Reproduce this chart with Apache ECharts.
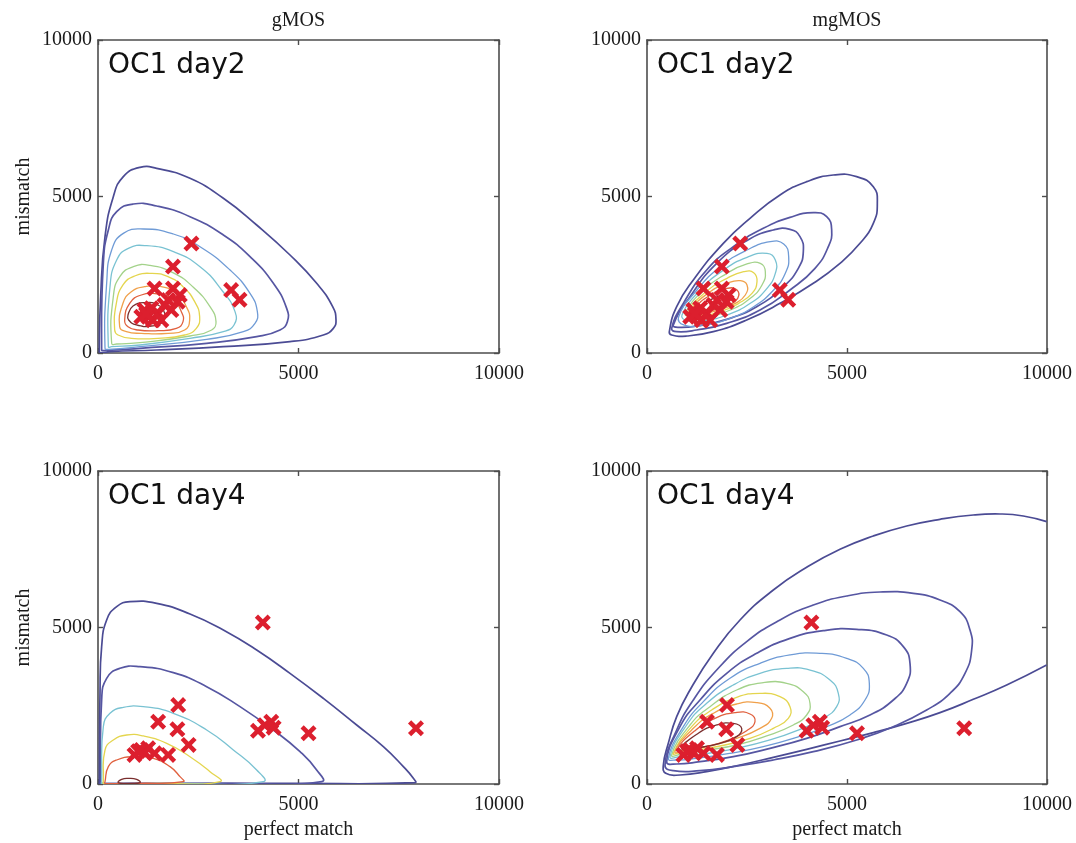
<!DOCTYPE html>
<html>
<head>
<meta charset="utf-8">
<title>gMOS / mgMOS contours</title>
<script src="https://cdn.jsdelivr.net/npm/echarts@6/dist/echarts.min.js"></script>
<style>
  html, body { margin: 0; padding: 0; background: #fff; }
  #main { width: 1076px; height: 843px; }
</style>
</head>
<body>
<div id="main"></div>
<script>
// axis range (perfect match / mismatch intensities)
var axisMin = 0;
var axisMax = 10000;
var axisStep = 5000;

var columnTitles = ['gMOS', 'mgMOS'];
var panelLabels = ['OC1 day2', 'OC1 day2', 'OC1 day4', 'OC1 day4'];
var yName = 'mismatch';
var xName = 'perfect match';

var day2Probes = [
  [2330, 3500], [1870, 2760], [1410, 2060], [1870, 2060], [2040, 1850],
  [1990, 1640], [3320, 2010], [3530, 1700], [1160, 1370], [1330, 1430],
  [1250, 1160], [1500, 1270], [1660, 1530], [1750, 1690], [1080, 1160],
  [1370, 1050], [1580, 1050], [1830, 1370], [1200, 1250]
];
var day4Probes = [
  [4110, 5160], [2000, 2520], [1500, 1990], [1980, 1750], [2260, 1250],
  [3990, 1700], [4160, 1880], [4320, 1990], [4380, 1800], [5250, 1620],
  [7930, 1780], [910, 930], [1080, 1090], [1250, 1140], [1410, 980],
  [1750, 930], [1170, 1000], [1000, 1050]
];

// contour lines, outermost first
var gmosDay2Contours = [
  [[33,96],[66,1800],[175,3717],[382,4995],[632,5634],[1047,5932],[1463,5900],[2294,5580],[3126,4942],[3957,4090],[4788,3131],[5453,2226],[5852,1480],[5935,1054],[5869,788],[5620,575],[4788,362],[3126,202],[1463,96],[299,43],[50,10]],
  [[91,96],[133,2865],[258,3930],[466,4516],[881,4760],[1463,4697],[2294,4356],[3126,3770],[3791,3078],[4373,2226],[4705,1427],[4722,1001],[4539,735],[3957,522],[2710,309],[1047,149],[133,75]],
  [[175,149],[216,2226],[341,3291],[632,3823],[1131,3962],[1879,3802],[2544,3397],[3292,2652],[3791,1906],[3974,1321],[3915,948],[3625,682],[2710,437],[1047,202],[258,117]],
  [[258,202],[299,2119],[466,2971],[757,3344],[1214,3429],[1879,3238],[2544,2758],[3084,2013],[3417,1321],[3392,895],[3126,682],[2294,469],[1047,256],[341,202]],
  [[341,309],[382,1800],[549,2450],[881,2760],[1297,2800],[1879,2560],[2378,2100],[2793,1480],[2943,1001],[2835,735],[2294,543],[1047,330],[466,288]],
  [[416,735],[457,1587],[623,2173],[914,2460],[1330,2545],[1746,2439],[2120,2119],[2411,1640],[2535,1161],[2452,788],[2161,575],[1496,469],[831,469],[499,575]],
  [[540,841],[623,1587],[831,1960],[1164,2119],[1579,2119],[1954,1906],[2203,1480],[2286,1054],[2161,735],[1746,629],[1081,629],[707,682]],
  [[665,1054],[790,1587],[1081,1853],[1496,1885],[1870,1704],[2078,1321],[2120,1001],[1954,788],[1496,714],[998,735],[748,841]],
  [[748,1214],[873,1502],[1164,1608],[1496,1534],[1663,1267],[1621,1001],[1330,863],[956,895],[765,1054]]
];
var mgmosDay2Contours = [
  [[558,682],[742,1480],[1158,2332],[1908,3504],[2575,4303],[3325,5048],[3992,5474],[4658,5687],[5242,5634],[5658,5314],[5758,4782],[5658,4143],[5325,3504],[4825,2865],[4158,2226],[3325,1587],[2492,1054],[1658,682],[992,543],[617,575]],
  [[617,788],[908,1587],[1492,2652],[2158,3397],[2908,3983],[3575,4335],[4158,4484],[4492,4356],[4617,3930],[4533,3397],[4200,2705],[3575,2013],[2825,1374],[1992,948],[1242,735],[742,682]],
  [[658,895],[1075,1800],[1742,2865],[2492,3589],[3158,3930],[3575,3951],[3825,3717],[3908,3238],[3783,2705],[3408,2119],[2742,1480],[1992,1076],[1242,863],[783,820]],
  [[792,1161],[1250,2013],[1833,2758],[2500,3291],[3083,3557],[3417,3483],[3542,3078],[3458,2545],[3167,2013],[2667,1480],[2083,1108],[1417,895],[917,895]],
  [[875,1214],[1333,2013],[1917,2652],[2500,3056],[3000,3185],[3208,2971],[3208,2545],[3000,2066],[2583,1587],[2000,1214],[1417,1033],[1000,1033]],
  [[958,1267],[1417,2013],[2000,2545],[2500,2844],[2833,2865],[2958,2599],[2875,2173],[2583,1747],[2083,1374],[1500,1161],[1083,1161]],
  [[1042,1321],[1500,1985],[2000,2386],[2417,2599],[2667,2567],[2750,2279],[2625,1906],[2292,1587],[1833,1321],[1333,1214]],
  [[1125,1374],[1542,1927],[2000,2226],[2333,2311],[2500,2173],[2458,1853],[2208,1587],[1792,1374],[1375,1267]],
  [[1208,1427],[1583,1853],[2000,2066],[2250,2013],[2267,1747],[2042,1534],[1667,1374],[1333,1321]],
  [[1333,1480],[1667,1747],[1958,1820],[2042,1672],[1875,1502],[1583,1395],[1375,1395]]
];
var gmosDay4Contours = [
  [[33,43],[50,2897],[91,4388],[216,5240],[466,5666],[798,5826],[1463,5772],[2294,5432],[3126,4920],[3957,4281],[4788,3536],[5620,2737],[6451,1885],[7116,1193],[7615,554],[7864,181],[7906,43],[4788,21],[1463,21],[33,21]],
  [[66,75],[91,2684],[216,3376],[549,3696],[1047,3749],[1879,3557],[2710,3110],[3541,2471],[4373,1725],[5038,1033],[5453,447],[5578,75],[3126,21],[66,21]],
  [[91,75],[133,1832],[299,2258],[632,2449],[1131,2471],[1879,2258],[2710,1725],[3375,1086],[3957,447],[4123,75],[2000,21],[91,21]],
  [[133,75],[175,1086],[382,1406],[715,1566],[1131,1534],[1713,1300],[2294,873],[2793,394],[3043,75],[1500,21],[133,21]],
  [[175,75],[258,554],[466,767],[881,873],[1380,820],[1796,554],[2045,234],[2128,75],[1000,21],[175,21]],
  [[507,43],[590,149],[757,181],[964,149],[1047,43],[757,21]]
];
// outermost mgMOS day4 contour leaves the plot on the right, so it stays open
var mgmosDay4Outer = [[9992,8382],[9408,8563],[8825,8627],[8158,8595],[7325,8456],[6492,8243],[5658,7924],[4825,7498],[3992,6923],[3158,6198],[2325,5240],[1658,4175],[1075,3003],[742,2151],[533,1299],[408,600],[470,340],[825,288],[1492,394],[2325,607],[3158,852],[3992,1108],[4825,1374],[5658,1640],[6492,1938],[7325,2279],[8158,2705],[8992,3163],[9992,3802]];
var mgmosDay4Contours = [
  [[450,607],[742,1725],[1158,2684],[1742,3642],[2492,4548],[3325,5240],[4158,5719],[4992,6007],[5825,6134],[6658,6092],[7325,5879],[7825,5506],[8075,4920],[8117,4281],[7950,3536],[7575,2897],[6992,2364],[6158,1832],[5242,1406],[4158,1033],[3158,767],[2158,554],[1325,426],[658,426]],
  [[492,714],[825,1832],[1325,2684],[1992,3536],[2742,4175],[3575,4654],[4408,4899],[5242,4942],[5992,4761],[6408,4388],[6575,3855],[6492,3216],[6158,2684],[5575,2205],[4825,1832],[3992,1459],[3075,1140],[2158,873],[1325,714],[742,639]],
  [[533,820],[908,1832],[1408,2631],[2075,3376],[2825,3855],[3575,4122],[4325,4175],[4992,4015],[5408,3696],[5558,3216],[5450,2684],[5075,2205],[4492,1832],[3742,1491],[2908,1193],[2075,980],[1242,820],[742,767]],
  [[575,873],[992,1885],[1492,2577],[2158,3163],[2825,3536],[3492,3696],[4075,3642],[4575,3323],[4783,2897],[4742,2471],[4408,2098],[3825,1747],[3075,1406],[2242,1140],[1408,959],[825,873]],
  [[617,927],[1075,1885],[1575,2471],[2242,3003],[2908,3238],[3492,3216],[3908,2950],[4075,2577],[3992,2205],[3658,1885],[2992,1534],[2242,1246],[1408,1065],[867,959]],
  [[658,980],[1117,1832],[1617,2364],[2242,2769],[2825,2897],[3325,2790],[3575,2471],[3533,2098],[3158,1779],[2575,1459],[1825,1214],[1158,1065],[825,1001]],
  [[700,1033],[1158,1779],[1658,2258],[2242,2556],[2742,2599],[3075,2418],[3117,2098],[2825,1779],[2242,1459],[1575,1214],[992,1086]],
  [[742,1086],[1200,1704],[1700,2098],[2200,2279],[2575,2237],[2700,1991],[2492,1704],[2033,1406],[1450,1193],[992,1108]],
  [[867,1140],[1283,1619],[1742,1885],[2158,1938],[2367,1779],[2242,1514],[1825,1299],[1325,1171]]
];

// ---- styling ----
var levelColors = ['#4b4b94', '#5656a2', '#6f9bd6', '#79c2d2', '#a3d28a', '#e4d54e', '#f0a04a', '#e0603e', '#c83a32', '#7a2e2e'];
var gmosDay2Levels = [0, 1, 2, 3, 4, 5, 6, 7, 9];
var mgmosDay2Levels = [0, 1, 1, 2, 3, 4, 5, 6, 7, 9];
var gmosDay4Levels = [0, 1, 3, 5, 7, 9];
var mgmosDay4Levels = [1, 1, 2, 3, 4, 5, 6, 7, 9];
var crossColor = '#dc1f2e';
var crossPath = 'path://M2,0L5,3L8,0L10,2L7,5L10,8L8,10L5,7L2,10L0,8L3,5L0,2Z';
var serif = '"Liberation Serif", "Times New Roman", serif';
var frameColor = '#4d4d4d';

var chart = echarts.init(document.getElementById('main'), null, { renderer: 'canvas' });

var grids = [
  { left: 98, top: 40, width: 401, height: 313 },
  { left: 647, top: 40, width: 400, height: 313 },
  { left: 98, top: 471, width: 401, height: 313 },
  { left: 647, top: 471, width: 400, height: 313 }
];

var xAxes = [], yAxes = [], series = [];

function axisBase(p, pos, labels) {
    return {
        gridIndex: p,
        type: 'value',
        position: pos,
        min: axisMin,
        max: axisMax,
        interval: axisStep,
        axisLine: { show: true, onZero: false, lineStyle: { color: frameColor, width: 1.6 } },
        axisTick: { show: true, inside: true, length: 5, lineStyle: { color: frameColor, width: 1.4 } },
        axisLabel: {
            show: labels, fontFamily: serif, fontSize: 20, color: '#1a1a1a',
            showMinLabel: true, showMaxLabel: true,
            formatter: function (v) { return String(v); }
        },
        splitLine: { show: false }
    };
}

grids.forEach(function (g, p) {
    var bx = axisBase(p, 'bottom', true);
    bx.axisLabel.margin = 11;
    if (p >= 2) {
        bx.name = xName;
        bx.nameLocation = 'middle';
        bx.nameGap = 36;
        bx.nameTextStyle = { fontFamily: serif, fontSize: 20, color: '#1a1a1a' };
    }
    xAxes.push(bx);
    xAxes.push(axisBase(p, 'top', false));

    var ly = axisBase(p, 'left', true);
    ly.axisLabel.margin = 6;
    if (p % 2 === 0) {
        ly.name = yName;
        ly.nameLocation = 'middle';
        ly.nameGap = 64;
        ly.nameTextStyle = { fontFamily: serif, fontSize: 20, color: '#1a1a1a' };
    }
    yAxes.push(ly);
    yAxes.push(axisBase(p, 'right', false));
});

// each contour is one custom series; the whole curve is drawn once (on the
// first item) as a smoothed polygon / polyline through the axis coordinates
function addContours(p, curves, levels, closed) {
    curves.forEach(function (pts, i) {
        var lv = levels[i];
        series.push({
            type: 'custom',
            coordinateSystem: 'cartesian2d',
            xAxisIndex: p * 2,
            yAxisIndex: p * 2,
            data: pts,
            clip: true,
            silent: true,
            z: 2,
            renderItem: function (params, api) {
                if (params.dataIndex !== 0) return null;
                var coords = pts.map(function (d) { return api.coord(d); });
                return {
                    type: closed ? 'polygon' : 'polyline',
                    shape: { points: coords, smooth: 0.5 },
                    style: { fill: null, stroke: levelColors[lv], lineWidth: lv < 2 ? 1.7 : 1.3 }
                };
            }
        });
    });
}

function addProbes(p, pts) {
    series.push({
        type: 'scatter',
        xAxisIndex: p * 2,
        yAxisIndex: p * 2,
        data: pts,
        symbol: crossPath,
        symbolSize: 16,
        silent: true,
        z: 5,
        itemStyle: { color: crossColor, opacity: 1 }
    });
}

addContours(0, gmosDay2Contours, gmosDay2Levels, true);
addContours(1, mgmosDay2Contours, mgmosDay2Levels, true);
addContours(2, gmosDay4Contours, gmosDay4Levels, true);
addContours(3, [mgmosDay4Outer], [0], false);
addContours(3, mgmosDay4Contours, mgmosDay4Levels, true);
addProbes(0, day2Probes);
addProbes(1, day2Probes);
addProbes(2, day4Probes);
addProbes(3, day4Probes);

var texts = [];
columnTitles.forEach(function (t, i) {
    var g = grids[i];
    texts.push({
        type: 'text', x: g.left + g.width / 2, y: 21, silent: true,
        style: { text: t, font: '20px ' + serif, fill: '#1a1a1a', align: 'center', verticalAlign: 'middle' }
    });
});
panelLabels.forEach(function (t, i) {
    var g = grids[i];
    texts.push({
        type: 'text', x: g.left + 10, y: g.top + 26, silent: true,
        style: { text: t, font: '28px "DejaVu Sans", sans-serif', fill: '#111', align: 'left', verticalAlign: 'middle' }
    });
});

chart.setOption({
    animation: false,
    backgroundColor: '#fff',
    grid: grids,
    xAxis: xAxes,
    yAxis: yAxes,
    graphic: texts,
    series: series
});
</script>
</body>
</html>
